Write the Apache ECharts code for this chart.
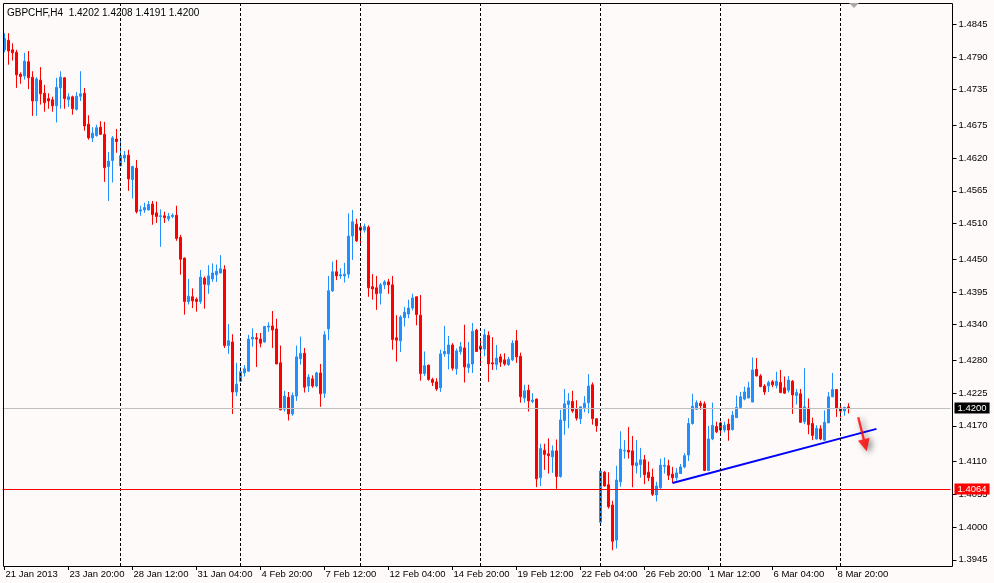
<!DOCTYPE html>
<html><head><meta charset="utf-8">
<script src="https://cdn.jsdelivr.net/npm/echarts@6/dist/echarts.min.js"></script>
<style>html,body{margin:0;padding:0;background:#fffafa;}#chart{width:994px;height:583px;}</style>
</head><body><div id="chart"></div>
<script>
const symbolName = 'GBPCHF,H4';
// H4 candles: [open, close, low, high]
const candles = [
[1.4802,1.4821,1.4798,1.4830],[1.4818,1.4800,1.4777,1.4830],[1.4802,1.4797,1.4784,1.4813],[1.4798,1.4760,1.4738,1.4802],
[1.4761,1.4757,1.4745,1.4764],[1.4758,1.4783,1.4752,1.4797],[1.4782,1.4755,1.4736,1.4800],[1.4756,1.4716,1.4691,1.4766],
[1.4716,1.4753,1.4691,1.4756],[1.4751,1.4728,1.4710,1.4773],[1.4729,1.4713,1.4698,1.4743],[1.4720,1.4716,1.4703,1.4729],
[1.4718,1.4708,1.4698,1.4723],[1.4708,1.4739,1.4680,1.4755],[1.4738,1.4756,1.4703,1.4766],[1.4755,1.4720,1.4703,1.4756],
[1.4718,1.4723,1.4706,1.4729],[1.4723,1.4703,1.4693,1.4725],[1.4702,1.4724,1.4700,1.4731],[1.4724,1.4728,1.4716,1.4766],
[1.4729,1.4674,1.4666,1.4738],[1.4677,1.4654,1.4651,1.4692],[1.4654,1.4662,1.4647,1.4672],[1.4658,1.4671,1.4656,1.4676],
[1.4672,1.4660,1.4659,1.4682],[1.4660,1.4604,1.4580,1.4681],[1.4606,1.4615,1.4548,1.4630],[1.4616,1.4654,1.4579,1.4657],
[1.4652,1.4648,1.4629,1.4669],[1.4607,1.4624,1.4606,1.4650],[1.4620,1.4625,1.4613,1.4632],[1.4625,1.4585,1.4565,1.4634],
[1.4584,1.4606,1.4552,1.4607],[1.4603,1.4530,1.4527,1.4617],[1.4531,1.4533,1.4523,1.4540],[1.4533,1.4537,1.4528,1.4545],
[1.4533,1.4542,1.4532,1.4548],[1.4543,1.4525,1.4508,1.4548],[1.4528,1.4522,1.4511,1.4547],[1.4522,1.4523,1.4471,1.4534],
[1.4523,1.4520,1.4511,1.4530],[1.4518,1.4522,1.4514,1.4528],[1.4522,1.4524,1.4519,1.4527],[1.4524,1.4485,1.4481,1.4540],
[1.4487,1.4450,1.4424,1.4491],[1.4452,1.4379,1.4357,1.4453],[1.4379,1.4388,1.4374,1.4417],[1.4387,1.4380,1.4368,1.4401],
[1.4383,1.4379,1.4362,1.4386],[1.4379,1.4420,1.4375,1.4432],[1.4418,1.4408,1.4367,1.4421],[1.4407,1.4422,1.4392,1.4440],
[1.4417,1.4427,1.4412,1.4443],[1.4424,1.4430,1.4412,1.4441],[1.4427,1.4434,1.4426,1.4457],[1.4433,1.4305,1.4301,1.4440],
[1.4305,1.4313,1.4291,1.4341],[1.4311,1.4227,1.4190,1.4324],[1.4227,1.4240,1.4220,1.4276],[1.4245,1.4261,1.4244,1.4269],
[1.4259,1.4266,1.4253,1.4272],[1.4262,1.4316,1.4261,1.4323],[1.4316,1.4319,1.4303,1.4334],[1.4318,1.4316,1.4269,1.4326],
[1.4316,1.4309,1.4302,1.4326],[1.4311,1.4337,1.4310,1.4338],[1.4336,1.4338,1.4328,1.4344],[1.4338,1.4331,1.4301,1.4363],
[1.4333,1.4274,1.4274,1.4350],[1.4276,1.4197,1.4196,1.4305],[1.4198,1.4220,1.4194,1.4229],[1.4218,1.4190,1.4179,1.4227],
[1.4190,1.4221,1.4187,1.4226],[1.4220,1.4286,1.4212,1.4305],[1.4283,1.4292,1.4273,1.4320],[1.4292,1.4235,1.4226,1.4301],
[1.4237,1.4252,1.4227,1.4257],[1.4249,1.4237,1.4234,1.4255],[1.4237,1.4259,1.4235,1.4261],[1.4259,1.4224,1.4202,1.4274],
[1.4225,1.4323,1.4217,1.4329],[1.4333,1.4397,1.4314,1.4422],[1.4397,1.4429,1.4395,1.4446],[1.4429,1.4422,1.4415,1.4449],
[1.4422,1.4424,1.4417,1.4435],[1.4422,1.4425,1.4411,1.4444],[1.4425,1.4489,1.4418,1.4527],[1.4489,1.4513,1.4449,1.4533],
[1.4509,1.4481,1.4479,1.4518],[1.4504,1.4499,1.4475,1.4510],[1.4499,1.4505,1.4495,1.4510],[1.4504,1.4402,1.4387,1.4507],
[1.4404,1.4400,1.4382,1.4425],[1.4402,1.4392,1.4365,1.4422],[1.4393,1.4407,1.4374,1.4410],[1.4407,1.4412,1.4400,1.4415],
[1.4412,1.4407,1.4392,1.4417],[1.4407,1.4315,1.4298,1.4422],[1.4318,1.4314,1.4278,1.4356],[1.4313,1.4353,1.4294,1.4356],
[1.4352,1.4361,1.4337,1.4370],[1.4358,1.4368,1.4351,1.4382],[1.4368,1.4385,1.4364,1.4392],[1.4387,1.4357,1.4339,1.4387],
[1.4356,1.4258,1.4246,1.4390],[1.4258,1.4271,1.4254,1.4295],[1.4272,1.4248,1.4246,1.4273],[1.4248,1.4243,1.4237,1.4251],
[1.4244,1.4232,1.4229,1.4250],[1.4234,1.4291,1.4227,1.4298],[1.4291,1.4295,1.4286,1.4338],[1.4291,1.4306,1.4265,1.4321],
[1.4306,1.4267,1.4263,1.4309],[1.4266,1.4296,1.4256,1.4300],[1.4295,1.4303,1.4290,1.4311],[1.4301,1.4269,1.4243,1.4340],
[1.4268,1.4274,1.4259,1.4311],[1.4274,1.4329,1.4259,1.4343],[1.4331,1.4295,1.4294,1.4333],[1.4304,1.4299,1.4274,1.4317],
[1.4299,1.4323,1.4287,1.4333],[1.4322,1.4274,1.4244,1.4329],[1.4276,1.4274,1.4264,1.4319],[1.4273,1.4284,1.4264,1.4306],
[1.4286,1.4277,1.4269,1.4291],[1.4281,1.4274,1.4271,1.4292],[1.4273,1.4282,1.4271,1.4286],[1.4281,1.4309,1.4279,1.4314],
[1.4313,1.4286,1.4276,1.4331],[1.4287,1.4219,1.4209,1.4293],[1.4217,1.4229,1.4209,1.4239],[1.4230,1.4212,1.4194,1.4239],
[1.4211,1.4213,1.4208,1.4225],[1.4215,1.4081,1.4067,1.4216],[1.4083,1.4132,1.4069,1.4140],[1.4129,1.4122,1.4096,1.4140],
[1.4123,1.4120,1.4090,1.4149],[1.4118,1.4128,1.4091,1.4137],[1.4128,1.4085,1.4064,1.4147],[1.4085,1.4180,1.4083,1.4197],
[1.4179,1.4207,1.4155,1.4232],[1.4206,1.4212,1.4166,1.4225],[1.4211,1.4195,1.4192,1.4229],[1.4198,1.4183,1.4179,1.4213],
[1.4182,1.4202,1.4173,1.4202],[1.4201,1.4208,1.4193,1.4220],[1.4209,1.4237,1.4191,1.4257],[1.4239,1.4182,1.4172,1.4243],
[1.4182,1.4170,1.4160,1.4183],[1.4008,1.4094,1.4006,1.4095],[1.4092,1.4069,1.4068,1.4094],[1.4071,1.4034,1.4031,1.4092],
[1.4037,1.3976,1.3961,1.4044],[1.3978,1.4079,1.3964,1.4103],[1.4076,1.4131,1.4068,1.4161],[1.4128,1.4129,1.4115,1.4146],
[1.4129,1.4126,1.4115,1.4168],[1.4128,1.4104,1.4067,1.4153],[1.4103,1.4108,1.4090,1.4146],[1.4105,1.4113,1.4083,1.4133],
[1.4113,1.4088,1.4072,1.4121],[1.4092,1.4083,1.4077,1.4110],[1.4084,1.4055,1.4052,1.4098],[1.4054,1.4069,1.4043,1.4076],
[1.4066,1.4104,1.4064,1.4115],[1.4102,1.4104,1.4090,1.4117],[1.4103,1.4087,1.4079,1.4113],[1.4089,1.4083,1.4074,1.4101],
[1.4083,1.4091,1.4078,1.4099],[1.4090,1.4101,1.4089,1.4106],[1.4101,1.4120,1.4099,1.4124],[1.4121,1.4174,1.4111,1.4183],
[1.4174,1.4203,1.4172,1.4224],[1.4198,1.4209,1.4197,1.4213],[1.4208,1.4204,1.4197,1.4212],[1.4207,1.4095,1.4094,1.4211],
[1.4095,1.4148,1.4094,1.4170],[1.4148,1.4171,1.4146,1.4209],[1.4169,1.4160,1.4158,1.4177],[1.4175,1.4163,1.4155,1.4177],
[1.4163,1.4171,1.4159,1.4177],[1.4173,1.4163,1.4145,1.4182],[1.4164,1.4188,1.4162,1.4195],[1.4184,1.4201,1.4183,1.4221],
[1.4201,1.4219,1.4199,1.4227],[1.4215,1.4227,1.4213,1.4236],[1.4217,1.4234,1.4216,1.4244],[1.4210,1.4264,1.4210,1.4285],
[1.4265,1.4254,1.4253,1.4284],[1.4254,1.4236,1.4235,1.4257],[1.4237,1.4227,1.4222,1.4240],[1.4237,1.4243,1.4227,1.4246],
[1.4244,1.4239,1.4235,1.4247],[1.4238,1.4245,1.4233,1.4261],[1.4243,1.4226,1.4225,1.4264],[1.4234,1.4225,1.4224,1.4253],
[1.4230,1.4247,1.4226,1.4254],[1.4245,1.4222,1.4190,1.4247],[1.4221,1.4226,1.4206,1.4232],[1.4224,1.4176,1.4175,1.4232],
[1.4177,1.4202,1.4173,1.4267],[1.4200,1.4172,1.4156,1.4216],[1.4174,1.4154,1.4146,1.4184],[1.4148,1.4166,1.4147,1.4171],
[1.4165,1.4148,1.4146,1.4171],[1.4146,1.4176,1.4145,1.4196],[1.4175,1.4219,1.4175,1.4227],[1.4219,1.4231,1.4218,1.4259],
[1.4231,1.4200,1.4185,1.4232],[1.4200,1.4195,1.4184,1.4205],[1.4195,1.4201,1.4187,1.4202],[1.4202,1.4200,1.4191,1.4208]
];
const xTickLabels = ['21 Jan 2013','23 Jan 20:00','28 Jan 12:00','31 Jan 04:00','4 Feb 20:00','7 Feb 12:00','12 Feb 04:00',
  '14 Feb 20:00','19 Feb 12:00','22 Feb 04:00','26 Feb 20:00','1 Mar 12:00','6 Mar 04:00','8 Mar 20:00'];
const xTickEvery = 16;
const yTickValues = [1.3945,1.4000,1.4055,1.4110,1.4170,1.4225,1.4280,1.4340,1.4395,1.4450,1.4510,1.4565,1.4620,1.4675,1.4735,1.4790,1.4845];
const weekStartBars = [29,59,89,119,149,179,209];
const bidPrice = 1.4200;
const hLinePrice = 1.4064;
const trendLine = [[167,1.4074],[218,1.4165]];
const arrowPoint = [214,1.4156];
const totalSlots = 237;
const priceMin = 1.39345, priceMax = 1.48807;

const FONT = 'Liberation Sans';
const last = candles[candles.length-1];
const titleText = symbolName + '  ' + [last[0], last[3], last[2], last[1]].map(v => v.toFixed(4)).join(' ');
const slots = Array.from({length: totalSlots}, (_, i) => String(i));
const showTick = (idx) => idx % xTickEvery === 0 && idx / xTickEvery < xTickLabels.length;

const chart = echarts.init(document.getElementById('chart'), null, {renderer: 'canvas'});
chart.setOption({
  animation: false,
  backgroundColor: '#fffafa',
  textStyle: {fontFamily: FONT},
  title: {text: titleText, left: 2, top: 3, textStyle: {fontSize: 10, fontWeight: 'normal', color: '#000', fontFamily: FONT}},
  grid: {left: 2.5, right: 43.5, top: 3, bottom: 17, containLabel: false},
  xAxis: {
    type: 'category', data: slots, boundaryGap: true,
    axisLine: {show: false},
    axisTick: {show: true, alignWithLabel: true, interval: (i) => showTick(i), length: 4, lineStyle: {color: '#000'}},
    axisLabel: {interval: (i) => showTick(i), formatter: (v, i) => xTickLabels[i / xTickEvery], align: 'left',
      margin: 3, fontSize: 9.5, color: '#000', fontFamily: FONT, padding: [0,0,0,1]},
    splitLine: {show: false}
  },
  yAxis: {
    type: 'value', position: 'right', min: priceMin, max: priceMax, offset: 2, scale: true,
    axisLine: {show: false}, splitLine: {show: false},
    axisTick: {show: true, length: 4, customValues: yTickValues, lineStyle: {color: '#000'}},
    axisLabel: {customValues: yTickValues, formatter: (v) => v.toFixed(4), fontSize: 9.5, color: '#000', margin: 6, fontFamily: FONT}
  },
  graphic: [
    {type: 'rect', shape: {x: 3.5, y: 3.5, width: 949, height: 563}, style: {fill: 'none', stroke: '#000', lineWidth: 1}, z: 100, silent: true},
    {type: 'polygon', shape: {points: [[849,3],[859,3],[854,8]]}, style: {fill: '#a8a8a8'}, z: 101, silent: true}
  ],
  series: [
    {
      type: 'candlestick', data: candles, barWidth: 2, z: 3,
      itemStyle: {color: '#1e90ff', color0: '#ff0000', borderColor: '#1e90ff', borderColor0: '#ff0000', borderWidth: 1},
      markLine: {
        silent: true, symbol: ['none','none'], animation: false,
        label: {show: false},
        lineStyle: {color: '#000', type: [3,2], width: 1},
        data: weekStartBars.map(b => ({xAxis: b}))
      }
    },
    {
      type: 'line', data: trendLine, symbol: 'none', z: 4,
      lineStyle: {color: '#0000ff', width: 2},
      markLine: {
        silent: true, symbol: ['none','none'], animation: false, precision: 4,
        data: [
          {yAxis: bidPrice, lineStyle: {color: '#c0c0c0', type: 'solid', width: 1},
            label: {show: true, position: 'end', distance: 4, formatter: (p) => p.value.toFixed(4), color: '#fff', backgroundColor: '#000', padding: [1,3,0,3], fontSize: 9.5, fontFamily: FONT}},
          {yAxis: hLinePrice, lineStyle: {color: '#ff0000', type: 'solid', width: 1},
            label: {show: true, position: 'end', distance: 4, formatter: (p) => p.value.toFixed(4), color: '#fff', backgroundColor: '#ff0000', padding: [1,3,0,3], fontSize: 9.5, fontFamily: FONT}}
        ]
      }
    },
    {
      type: 'scatter', data: [arrowPoint], z: 5,
      symbol: 'path://M4,0 L6,0 L6,22 L10,22 L5,34 L0,22 L4,22 Z', symbolSize: [12, 35], symbolRotate: 14, symbolOffset: [2, 0],
      itemStyle: {color: '#ff0000', shadowBlur: 6, shadowColor: 'rgba(0,0,0,0.6)', shadowOffsetX: 3, shadowOffsetY: 2}
    }
  ]
});
</script></body></html>
